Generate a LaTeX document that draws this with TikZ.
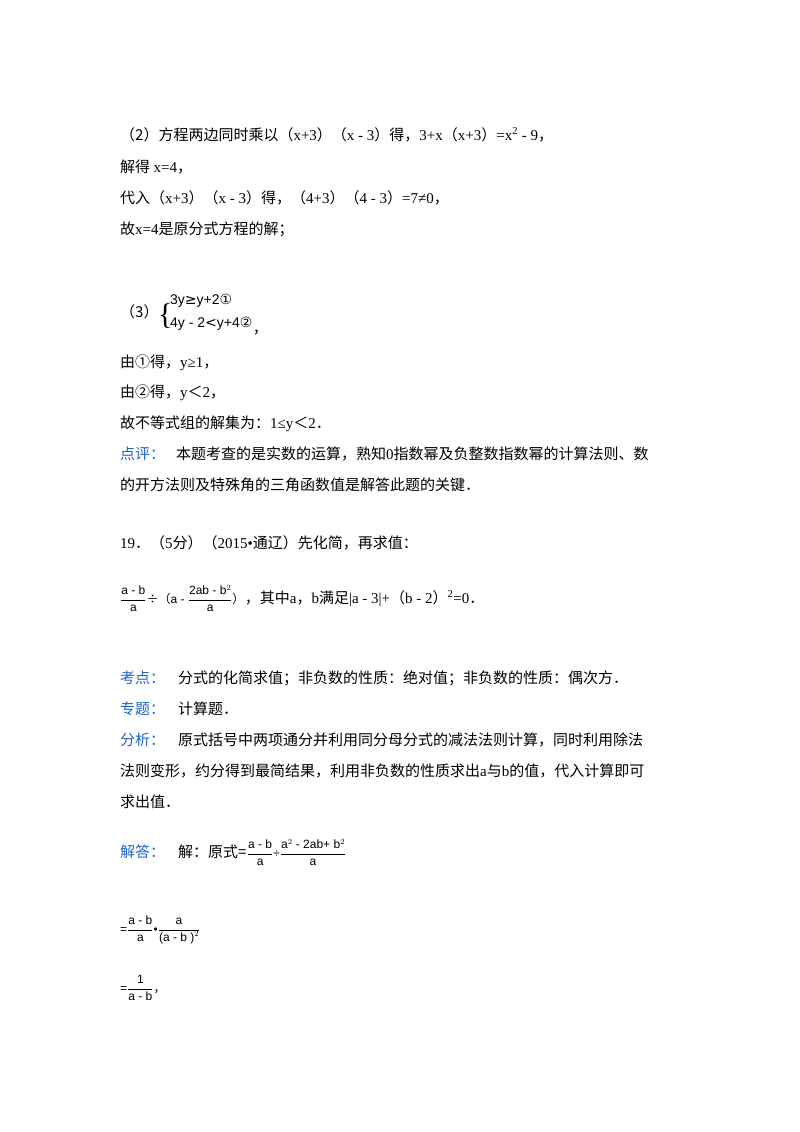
\documentclass[tikz,border=0pt]{standalone}
\usepackage{fontspec}
\setmainfont{Liberation Serif}
\newfontfamily\cjk{Noto Sans CJK SC}
\newfontfamily\arialf{Liberation Sans}
\newfontfamily\djv{DejaVu Sans}
\definecolor{kblue}{RGB}{30,100,200}
\newcommand{\ff}[2]{\ensuremath{\displaystyle\frac{\mbox{#1}}{\mbox{#2}}}}
\begin{document}
\begin{tikzpicture}[x=1pt,y=-1pt,
 t/.style={anchor=base west,inner sep=0pt,font=\fontsize{15}{18}\selectfont},
 bl/.style={t,text=kblue},
 fr/.style={anchor=base west,inner sep=0pt,font=\arialf\fontsize{12}{14}\selectfont}]
\useasboundingbox (0,0) rectangle (800,1132);
\node[t] (l1) at (120,140) {{\cjk（2）方程两边同时乘以（}x+3{\cjk）（}x - 3{\cjk）得，}3+x{\cjk（}x+3{\cjk）}=x\textsuperscript{2} - 9{\cjk，}};
\node[t] (l2) at (120,172) {{\cjk 解得 }x=4{\cjk，}};
\node[t] (l3) at (120,203) {{\cjk 代入（}x+3{\cjk）（}x - 3{\cjk）得，（}4+3{\cjk）（}4 - 3{\cjk）}=7≠0{\cjk，}};
\node[t] (l4) at (120,234) {{\cjk 故}x=4{\cjk 是原分式方程的解；}};
\node[t] (l5) at (120,317) {\cjk（3）};
\node[t,font=\fontsize{30}{30}\selectfont] (br) at (158,324) {\{};
\node[t,font=\arialf\fontsize{14}{15}\selectfont] (s1) at (170,304) {3y{\djv ≥}y+2{\djv ①}};
\node[t,font=\arialf\fontsize{14}{15}\selectfont] (s2) at (170,327) {4y - 2{\djv <}y+4{\djv ②}};
\node[t] (cm) at (s2.base east) [anchor=base west,yshift=-6pt] {\cjk，};
\node[t] (l6) at (120,367) {{\cjk 由①得，}y≥1{\cjk，}};
\node[t] (l7) at (120,397) {{\cjk 由②得，}y{\cjk ＜}2{\cjk，}};
\node[t] (l8) at (120,428) {{\cjk 故不等式组的解集为：}1≤y{\cjk ＜}2{\cjk ．}};
\node[bl] (d1) at (120,459) {\cjk 点评：};
\node[t] (l9) at (176,459) {{\cjk 本题考查的是实数的运算，熟知}0{\cjk 指数幂及负整数指数幂的计算法则、数}};
\node[t] (l10) at (120,490) {\cjk 的开方法则及特殊角的三角函数值是解答此题的关键．};
\node[t] (l11) at (120,548) {19{\cjk ．（}5{\cjk 分）（}2015•{\cjk 通辽）先化简，再求值：}};
\node[fr] (f1) at (120,603) {\ff{a - b}{a}{\cjk ÷（}a - \ff{2ab - b$^2$}{a}{\cjk ）}};
\node[t] (l12) at (f1.base east) {{\cjk ，其中}a{\cjk ，}b{\cjk 满足}|a - 3|+{\cjk（}b - 2{\cjk）}\textsuperscript{2}=0{\cjk ．}};
\node[bl] (k1) at (120,683) {\cjk 考点：};
\node[t] (l13) at (178,683) {\cjk 分式的化简求值；非负数的性质：绝对值；非负数的性质：偶次方．};
\node[bl] (k2) at (120,714) {\cjk 专题：};
\node[t] (l14) at (178,714) {\cjk 计算题．};
\node[bl] (k3) at (120,745) {\cjk 分析：};
\node[t] (l15) at (178,745) {\cjk 原式括号中两项通分并利用同分母分式的减法法则计算，同时利用除法};
\node[t] (l16) at (120,776) {{\cjk 法则变形，约分得到最简结果，利用非负数的性质求出}a{\cjk 与}b{\cjk 的值，代入计算即可}};
\node[t] (l17) at (120,807) {\cjk 求出值．};
\node[bl] (k4) at (120,857) {\cjk 解答：};
\node[t] (l18) at (178,857) {\cjk 解：原式=};
\node[fr] (f2) at (l18.base east) {\ff{a - b}{a}÷\ff{a$^2$ - 2ab+ b$^2$}{a}};
\node[fr] (f3) at (120,933) {=\ff{a - b}{a}•\ff{a}{(a - b )$^2$}};
\node[fr] (f4) at (120,992) {=\ff{1}{a - b}{\cjk ，}};
\end{tikzpicture}
\end{document}
